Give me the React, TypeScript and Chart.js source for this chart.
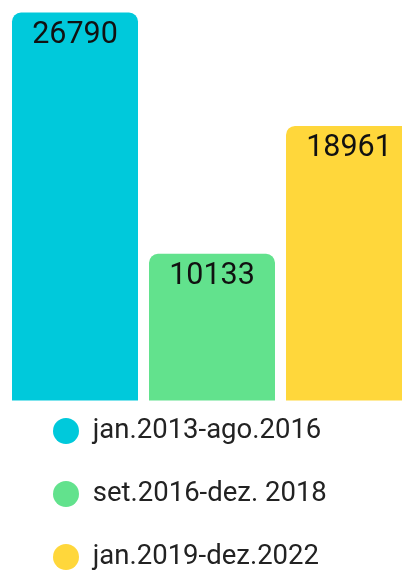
import React, { useEffect, useRef } from "react";
import { Chart, registerables } from "chart.js";

Chart.register(...registerables);

const categories = [""];
const seriesLabels = ["jan.2013-ago.2016", "set.2016-dez. 2018", "jan.2019-dez.2022"];
const seriesValues = [26790, 10133, 18961];
const seriesColors = ["#00C9DB", "#62E28D", "#FFD73B"];

const CANVAS_W = 407;
const CANVAS_H = 581;
const PLOT_TOP = 12.5;
const ZERO_PX = 400.5;
const PLOT_BOTTOM = 381.75;
const LEGEND_FONT = 27.5;
const LEGEND_PAD = 63 - LEGEND_FONT;
const PAD_LEFT = 53 - LEGEND_PAD;

const valueLabelPlugin = {
  id: "valueLabels",
  afterDatasetsDraw(chart: any) {
    const ctx = chart.ctx;
    ctx.save();
    ctx.font = "30.5px Roboto";
    ctx.fillStyle = "#111111";
    ctx.textAlign = "center";
    ctx.textBaseline = "alphabetic";
    chart.data.datasets.forEach((ds: any, di: number) => {
      const meta = chart.getDatasetMeta(di);
      meta.data.forEach((el: any, i: number) => {
        const v = ds.data[i];
        ctx.fillText(String(v), el.x, el.y + 30.5);
      });
    });
    ctx.restore();
  },
};

export default function App() {
  const ref = useRef<HTMLCanvasElement | null>(null);
  useEffect(() => {
    if (!ref.current) return;
    const yMax = Math.max(...seriesValues);
    const yMin = (yMax * (ZERO_PX - PLOT_BOTTOM)) / (ZERO_PX - PLOT_TOP);
    const plotW = CANVAS_W - PAD_LEFT - 0.5;
    const chart = new Chart(ref.current, {
      type: "bar",
      data: {
        labels: categories,
        datasets: seriesLabels.map((label, i) => ({
          label,
          data: [seriesValues[i]],
          backgroundColor: seriesColors[i],
          borderWidth: 0,
          borderRadius: 9,
          borderSkipped: "start",
          clip: false,
          categoryPercentage: 411 / plotW,
          barPercentage: 126 / 137,
        })),
      },
      options: {
        animation: false,
        responsive: false,
        maintainAspectRatio: false,
        layout: {
          padding: {
            left: PAD_LEFT,
            right: 0.5,
            top: PLOT_TOP,
            bottom: CANVAS_H - (3 * 63 + 10) - PLOT_BOTTOM,
          },
        },
        scales: {
          x: { display: false, grid: { display: false } },
          y: { display: false, min: yMin, max: yMax, grid: { display: false } },
        },
        plugins: {
          tooltip: { enabled: false },
          legend: {
            display: true,
            position: "bottom",
            align: "start",
            labels: {
              usePointStyle: true,
              pointStyle: "circle",
              pointStyleWidth: 26,
              boxHeight: 18.4,
              padding: LEGEND_PAD,
              color: "#222222",
              font: { family: "Roboto", size: LEGEND_FONT },
            },
          },
        },
      },
      plugins: [valueLabelPlugin],
    } as any);
    return () => chart.destroy();
  }, []);
  return (
    <div style={{ position: "absolute", left: 0, top: 0, width: 402, height: 574, overflow: "hidden", background: "#fff" }}>
      <canvas ref={ref} width={CANVAS_W} height={CANVAS_H} style={{ display: "block", width: CANVAS_W, height: CANVAS_H }} />
    </div>
  );
}
